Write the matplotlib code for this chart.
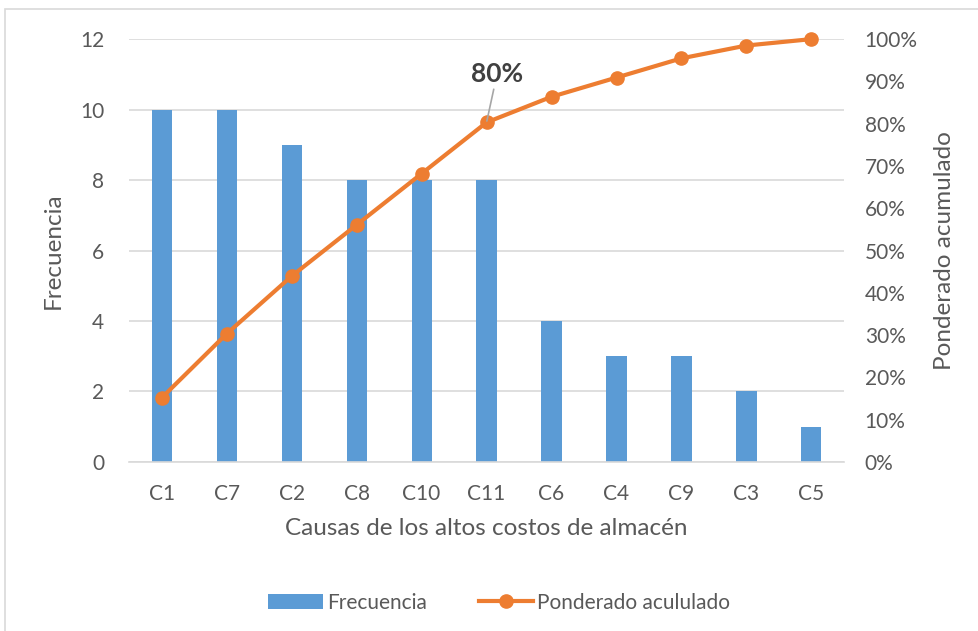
import matplotlib.pyplot as plt
import numpy as np
from matplotlib.patches import Rectangle
from matplotlib.ticker import PercentFormatter

plt.rcParams['font.family'] = ['Lato', 'DejaVu Sans']

# Causas ordenadas de mayor a menor frecuencia
causas = ['C1', 'C7', 'C2', 'C8', 'C10', 'C11', 'C6', 'C4', 'C9', 'C3', 'C5']
frecuencia = [10, 10, 9, 8, 8, 8, 4, 3, 3, 2, 1]

acumulado = np.cumsum(frecuencia) / np.sum(frecuencia) * 100

azul = '#5B9BD5'
naranja = '#ED7D31'
gris = '#595959'
rejilla = '#D9D9D9'

fig = plt.figure(figsize=(9.79, 6.31), dpi=100)
ax = fig.add_axes([0.132, 0.268, 0.730, 0.670])
ax2 = ax.twinx()

x = np.arange(len(causas))
barras = ax.bar(x, frecuencia, width=0.31, color=azul, label='Frecuencia', zorder=2)
linea, = ax2.plot(x, acumulado, color=naranja, linewidth=3.0, marker='o',
                  markersize=9.5, label='Ponderado acululado', zorder=3, clip_on=False)

ax.set_xlim(-0.5, len(causas) - 0.5)
ax.set_ylim(0, 12)
ax.set_yticks(range(0, 13, 2))
ax2.set_ylim(0, 100)
ax2.set_yticks(range(0, 101, 10))
ax2.yaxis.set_major_formatter(PercentFormatter(decimals=0))

ax.set_xticks(x)
ax.set_xticklabels(causas)
ax.yaxis.grid(True, color=rejilla, linewidth=1.2, zorder=0)
ax.set_axisbelow(True)

for a in (ax, ax2):
    for s in a.spines.values():
        s.set_visible(False)
    a.tick_params(length=0, colors=gris, labelsize=15)
ax.spines['bottom'].set_visible(True)
ax.spines['bottom'].set_color(rejilla)
ax.spines['bottom'].set_linewidth(1.2)
ax.tick_params(axis='x', pad=16)
ax.tick_params(axis='y', pad=18)
ax2.tick_params(axis='y', pad=15)

ax.set_xlabel('Causas de los altos costos de almacén', fontsize=17.5, color=gris, labelpad=10)
ax.set_ylabel('Frecuencia', fontsize=17.5, color=gris, labelpad=12)
ax2.set_ylabel('Ponderado acumulado', fontsize=17.5, color=gris, labelpad=12)

# Punto de corte del 80 %
ax2.annotate('80%', xy=(x[5], acumulado[5]), xytext=(x[5] + 0.16, acumulado[5] + 8.5),
             ha='center', va='bottom', fontsize=19, fontweight='bold', color='#404040',
             arrowprops=dict(arrowstyle='-', color='#A6A6A6', linewidth=1.2,
                             shrinkA=0, shrinkB=1))

fig.legend(handles=[barras, linea], loc='center', bbox_to_anchor=(0.51, 0.045),
           ncol=2, frameon=False, fontsize=15, labelcolor=gris,
           handlelength=2.6, columnspacing=2.5, handletextpad=0.2)

# Marco del gráfico
fig.patches.append(Rectangle((5 / 979, -0.1), 1.2, 1 - 9 / 631 + 0.1,
                             transform=fig.transFigure, fill=False,
                             edgecolor='#D9D9D9', linewidth=1.2))

fig.savefig('out.png', dpi=100)
